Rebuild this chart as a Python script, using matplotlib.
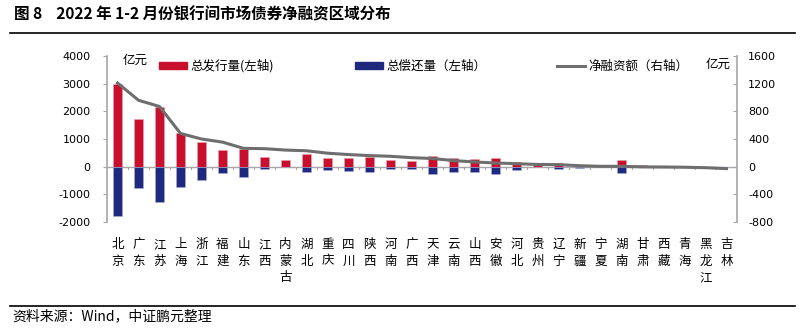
import matplotlib
matplotlib.use("Agg")
import matplotlib.pyplot as plt
import matplotlib.transforms as mtransforms
from matplotlib.lines import Line2D
from matplotlib.patches import Patch
import numpy as np

plt.rcParams['font.family'] = ['Noto Sans CJK SC', 'DejaVu Sans']

regions = ['北京', '广东', '江苏', '上海', '浙江', '福建', '山东', '江西', '内蒙古', '湖北',
           '重庆', '四川', '陕西', '河南', '广西', '天津', '云南', '山西', '安徽', '河北',
           '贵州', '辽宁', '新疆', '宁夏', '湖南', '甘肃', '西藏', '青海', '黑龙江', '吉林']
issuance = [3000, 1720, 2140, 1200, 880, 590, 650, 360, 240, 440,
            320, 320, 350, 240, 205, 400, 300, 270, 300, 160,
            60, 130, 20, 0, 250, 60, 0, 0, 0, 0]
repayment = [-1790, -760, -1270, -720, -480, -240, -390, -100, 0, -210,
             -120, -145, -180, -70, -72, -280, -200, -200, -270, -120,
             -30, -95, -40, 0, -230, -10, -5, -5, -10, -25]
net = [1210, 960, 870, 480, 400, 355, 265, 260, 240, 230,
       195, 175, 160, 150, 130, 118, 88, 68, 53, 43,
       32, 29, 14, 5, 5, -3, -5, -8, -15, -28]
left_ticks = [-2000, -1000, 0, 1000, 2000, 3000, 4000]
right_ticks = [-800, -400, 0, 400, 800, 1200, 1600]
legend_labels = ['总发行量(左轴)', '总偿还量（左轴）', '净融资额（右轴）']

RED = '#C8102E'
BLUE = '#1F2A7E'
GRAY_LINE = '#6E6E6E'
AX_GRAY = '#A6A6A6'

fig = plt.figure(figsize=(8.04, 3.31), dpi=100)
ax = fig.add_axes([107/804, 1-222/331, 630/804, 166/331])
ax2 = ax.twinx()

x = np.arange(len(regions))
ax.bar(x, issuance, width=0.43, color=RED, edgecolor='#E8A0A8', linewidth=0.4, zorder=2)
ax.bar(x, repayment, width=0.43, color=BLUE, edgecolor='#A8AEDC', linewidth=0.4, zorder=2)
ax.set_xlim(-0.5, len(regions)-0.5)
ax.set_ylim(-2000, 4000)
ax.set_yticks(left_ticks)
ax.set_yticklabels([str(v) for v in left_ticks], family='DejaVu Sans', fontsize=8)
ax.axhline(0, color=AX_GRAY, lw=1.0, zorder=1)
for b in np.arange(-0.5, len(regions)+0.5, 1.0)[1:-1]:
    ax.plot([b, b], [0, -90], color=AX_GRAY, lw=0.8, zorder=1)

ax2.plot(x, net, color=GRAY_LINE, lw=2.2, zorder=3)
ax2.set_ylim(-800, 1600)
ax2.set_yticks(right_ticks)
ax2.set_yticklabels([str(v) for v in right_ticks], family='DejaVu Sans', fontsize=8)

for a in (ax, ax2):
    a.spines['top'].set_visible(False)
    a.spines['bottom'].set_visible(False)
ax.spines['right'].set_visible(False)
ax2.spines['left'].set_visible(False)
ax.spines['left'].set_color(AX_GRAY)
ax2.spines['right'].set_color(AX_GRAY)
ax.spines['left'].set_linewidth(1.2)
ax2.spines['right'].set_linewidth(1.2)
ax.tick_params(axis='y', direction='out', length=3, color=AX_GRAY, pad=9)
ax2.tick_params(axis='y', direction='in', length=3, color=AX_GRAY, pad=8)
ax.set_xticks([])
ax.set_zorder(ax2.get_zorder()-1)
ax.patch.set_visible(False)
ax2.patch.set_visible(False)

trans = mtransforms.blended_transform_factory(ax.transData, fig.transFigure)
for i, name in enumerate(regions):
    ax.text(i, 1-238/331, '\n'.join(name), transform=trans, ha='center', va='top',
            fontsize=9, linespacing=1.35)

fig.text(123/804, 1-60/331, '亿元', fontsize=9, va='center', ha='left')
fig.text(731/804, 1-64/331, '亿元', fontsize=9, va='center', ha='right')

handles = [Patch(color=RED), Patch(color=BLUE), Line2D([], [], color=GRAY_LINE, lw=2.2)]
starts = [159, 355, 557]
for h, lab, sx in zip(handles, legend_labels, starts):
    fig.legend([h], [lab], loc='center left', bbox_to_anchor=(sx/804, 1-66/331),
               frameon=False, fontsize=9, handlelength=2.25, handleheight=0.5,
               handletextpad=0.3, borderpad=0, borderaxespad=0)

fig.text(14/804, 1-14/331, '图 8    2022 年 1-2 月份银行间市场债券净融资区域分布',
         fontsize=11.2, fontweight='bold', va='center', ha='left')
fig.add_artist(Line2D([10/804, 795/804], [1-33/331, 1-33/331], color='black', lw=1.2,
                      transform=fig.transFigure))
fig.add_artist(Line2D([10/804, 795/804], [1-306/331, 1-306/331], color='black', lw=1.2,
                      transform=fig.transFigure))
fig.text(12/804, 1-316/331, '资料来源：Wind，中证鹏元整理', fontsize=10, va='center', ha='left')

fig.savefig('out.png', dpi=100)
